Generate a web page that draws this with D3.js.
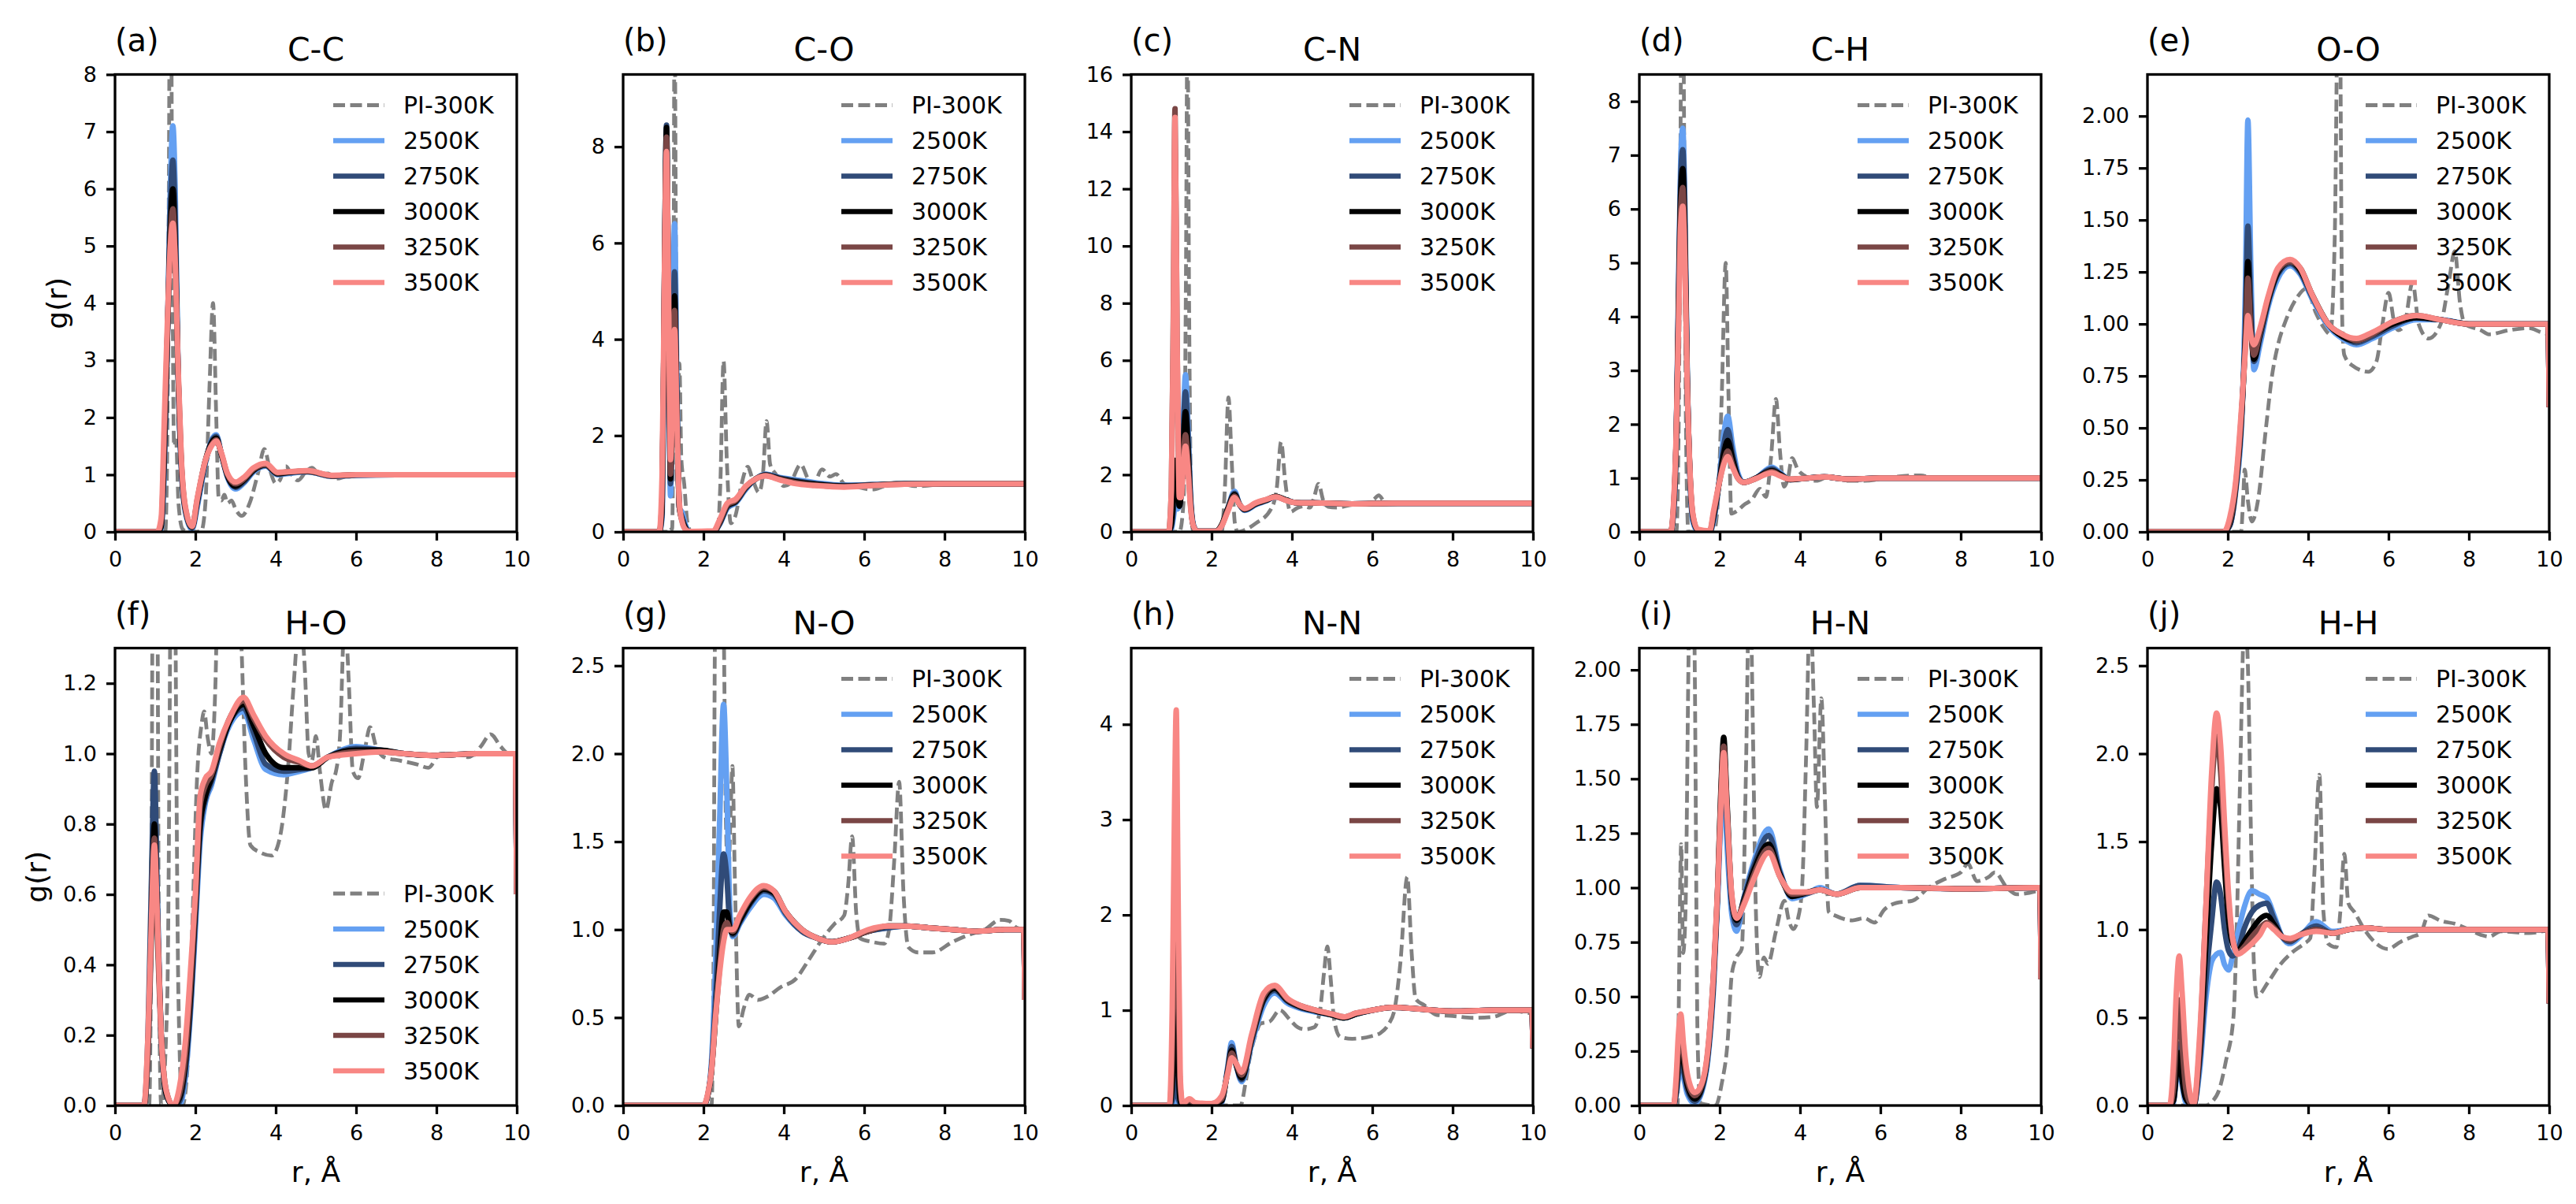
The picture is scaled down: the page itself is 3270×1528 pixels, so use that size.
<!DOCTYPE html>
<html>
<head>
<meta charset="utf-8">
<script src="https://cdnjs.cloudflare.com/ajax/libs/d3/7.8.5/d3.min.js"></script>
<style>
  body { margin: 0; background: #ffffff; }
  svg { display: block; font-family: "DejaVu Sans", sans-serif; }
</style>
</head>
<body>
<div id="chart"></div>
<script>
// Panel labels and names
const panelTags = ["(a)", "(b)", "(c)", "(d)", "(e)", "(f)", "(g)", "(h)", "(i)", "(j)"];
const panelNames = ["C-C", "C-O", "C-N", "C-H", "O-O", "H-O", "N-O", "N-N", "H-N", "H-H"];
const seriesNames = ["PI-300K", "2500K", "2750K", "3000K", "3250K", "3500K"];

// Axis ranges and ticks
const xTicks = [0, 2, 4, 6, 8, 10];
const yMaxes = [8, 9.5, 16, 8.5, 2.2, 1.3, 2.6, 4.8, 2.1, 2.6];
const yTickValues = [
  [0, 1, 2, 3, 4, 5, 6, 7, 8],
  [0, 2, 4, 6, 8],
  [0, 2, 4, 6, 8, 10, 12, 14, 16],
  [0, 1, 2, 3, 4, 5, 6, 7, 8],
  [0, 0.25, 0.5, 0.75, 1, 1.25, 1.5, 1.75, 2],
  [0, 0.2, 0.4, 0.6, 0.8, 1, 1.2],
  [0, 0.5, 1, 1.5, 2, 2.5],
  [0, 1, 2, 3, 4],
  [0, 0.25, 0.5, 0.75, 1, 1.25, 1.5, 1.75, 2],
  [0, 0.5, 1, 1.5, 2, 2.5]
];
const yTickFormats = ["d", "d", "d", "d", ".2f", ".1f", ".1f", "d", ".2f", ".1f"];

// g(r) of the melts: [r, 2500K, 2750K, 3000K, 3250K, 3500K]
const ccMelt = [
  [0, 0, 0, 0, 0, 0], [1.05, 0, 0, 0, 0, 0], [1.15, 0.05, 0.08, 0.1, 0.15, 0.25],
  [1.22, 0.9, 1.1, 1.2, 1.4, 1.8], [1.3, 3.2, 3.3, 3.3, 3.4, 3.6], [1.37, 5.8, 5.5, 5.2, 5.0, 4.9],
  [1.44, 7.1, 6.5, 6.0, 5.65, 5.4], [1.5, 5.9, 5.4, 5.0, 4.8, 4.7], [1.57, 2.8, 2.8, 2.8, 2.8, 2.9],
  [1.65, 1.1, 1.15, 1.2, 1.25, 1.3], [1.75, 0.35, 0.38, 0.4, 0.42, 0.45], [1.92, 0.05, 0.07, 0.08, 0.09, 0.1],
  [2.05, 0.45, 0.5, 0.55, 0.58, 0.6], [2.25, 1.2, 1.22, 1.25, 1.25, 1.25], [2.4, 1.6, 1.58, 1.55, 1.52, 1.5],
  [2.52, 1.7, 1.67, 1.64, 1.61, 1.59], [2.65, 1.35, 1.35, 1.35, 1.36, 1.38], [2.8, 0.95, 0.97, 0.98, 1.0, 1.02],
  [3.0, 0.75, 0.78, 0.8, 0.84, 0.87], [3.2, 0.85, 0.87, 0.9, 0.92, 0.95], [3.45, 1.05, 1.07, 1.08, 1.1, 1.12],
  [3.75, 1.15, 1.16, 1.17, 1.18, 1.2], [4.05, 1.0, 1.01, 1.02, 1.03, 1.04], [4.3, 1.02, 1.03, 1.04, 1.05, 1.05],
  [4.8, 1.05, 1.05, 1.06, 1.06, 1.07], [5.4, 0.97, 0.97, 0.98, 0.98, 0.99], [6, 0.99, 0.99, 1.0, 1.0, 1.0],
  [7, 1.0, 1.0, 1.0, 1.0, 1.0], [8, 1.0, 1.0, 1.0, 1.0, 1.0], [10, 1.0, 1.0, 1.0, 1.0, 1.0]
];
const coMelt = [
  [0, 0, 0, 0, 0, 0], [0.9, 0, 0, 0, 0, 0], [0.97, 0.3, 0.4, 0.5, 0.7, 1.2],
  [1.03, 5.0, 5.5, 5.5, 5.3, 5.5], [1.08, 8.3, 8.45, 8.4, 8.2, 7.9], [1.13, 4.0, 4.5, 4.6, 4.8, 5.0],
  [1.18, 0.75, 1.0, 1.1, 1.2, 1.5], [1.23, 3.5, 3.2, 3.0, 2.9, 2.8], [1.28, 6.4, 5.4, 4.9, 4.6, 4.2],
  [1.34, 3.0, 2.7, 2.5, 2.4, 2.3], [1.4, 0.5, 0.5, 0.5, 0.5, 0.6], [1.47, 0.4, 0.3, 0.25, 0.22, 0.2],
  [1.55, 0.15, 0.1, 0.08, 0.06, 0.05], [1.65, 0.01, 0.01, 0.01, 0.01, 0.01], [2.25, 0, 0, 0, 0, 0.02],
  [2.4, 0.15, 0.17, 0.18, 0.2, 0.25], [2.6, 0.5, 0.52, 0.55, 0.57, 0.6], [2.8, 0.6, 0.62, 0.63, 0.65, 0.68],
  [3.05, 0.88, 0.9, 0.92, 0.93, 0.95], [3.3, 1.1, 1.1, 1.1, 1.1, 1.1], [3.55, 1.2, 1.19, 1.18, 1.17, 1.16],
  [3.9, 1.13, 1.12, 1.1, 1.09, 1.08], [4.3, 1.08, 1.06, 1.04, 1.02, 1.0], [4.8, 1.02, 1.0, 0.99, 0.97, 0.96],
  [5.5, 0.97, 0.96, 0.95, 0.94, 0.93], [6.2, 0.98, 0.98, 0.97, 0.97, 0.96], [7, 1.0, 1.0, 1.0, 0.99, 0.99],
  [8, 1.0, 1.0, 1.0, 1.0, 1.0], [10, 1.0, 1.0, 1.0, 1.0, 1.0]
];
const cnMelt = [
  [0, 0, 0, 0, 0, 0], [0.93, 0, 0, 0, 0, 0], [1.0, 0.1, 0.2, 0.3, 1.5, 1.5],
  [1.05, 0.5, 0.8, 1.2, 8, 7.5], [1.09, 0.9, 1.5, 2.5, 14.8, 14.5], [1.14, 0.8, 1.2, 1.8, 7, 7],
  [1.2, 0.9, 0.9, 0.9, 1.2, 1.2], [1.24, 1.5, 1.4, 1.3, 1.2, 1.2], [1.3, 4.0, 3.6, 3.2, 2.7, 2.4],
  [1.35, 5.5, 4.9, 4.2, 3.4, 3.0], [1.41, 3.8, 3.4, 3.0, 2.5, 2.2], [1.48, 1.2, 1.1, 1.0, 0.9, 0.8],
  [1.55, 0.25, 0.2, 0.2, 0.2, 0.2], [1.65, 0.02, 0.02, 0.02, 0.02, 0.02], [2.1, 0.02, 0.02, 0.02, 0.02, 0.02],
  [2.25, 0.2, 0.22, 0.25, 0.22, 0.2], [2.4, 0.8, 0.8, 0.8, 0.75, 0.7], [2.57, 1.42, 1.35, 1.3, 1.25, 1.2],
  [2.7, 0.95, 0.95, 0.95, 0.95, 0.95], [2.82, 0.75, 0.77, 0.78, 0.8, 0.82], [3.1, 0.95, 0.97, 0.98, 1.0, 1.02],
  [3.35, 1.08, 1.09, 1.1, 1.12, 1.13], [3.6, 1.22, 1.23, 1.24, 1.23, 1.22], [3.85, 1.12, 1.12, 1.12, 1.11, 1.1],
  [4.1, 1.02, 1.02, 1.02, 1.02, 1.02], [4.6, 1.01, 1.01, 1.01, 1.01, 1.01], [5.5, 0.98, 0.98, 0.98, 0.98, 0.98],
  [6.5, 1.0, 1.0, 1.0, 1.0, 1.0], [10, 1.0, 1.0, 1.0, 1.0, 1.0]
];
const chMelt = [
  [0, 0, 0, 0, 0, 0], [0.78, 0, 0, 0, 0, 0], [0.85, 0.3, 0.35, 0.4, 0.45, 0.5],
  [0.92, 1.8, 1.8, 1.8, 1.8, 1.9], [0.98, 4.8, 4.6, 4.4, 4.2, 4.0], [1.03, 6.9, 6.6, 6.3, 6.0, 5.7],
  [1.08, 7.5, 7.1, 6.75, 6.4, 6.05], [1.13, 6.2, 6.0, 5.7, 5.4, 5.1], [1.19, 3.0, 3.0, 2.9, 2.85, 2.8],
  [1.26, 1.0, 1.05, 1.1, 1.1, 1.15], [1.33, 0.2, 0.25, 0.3, 0.32, 0.35], [1.45, 0.02, 0.03, 0.03, 0.04, 0.05],
  [1.75, 0, 0, 0, 0, 0.02], [1.85, 0.2, 0.25, 0.3, 0.35, 0.4], [2.0, 1.05, 1.0, 0.98, 0.95, 0.95],
  [2.1, 1.8, 1.6, 1.45, 1.3, 1.25], [2.2, 2.15, 1.9, 1.7, 1.5, 1.4], [2.32, 1.6, 1.45, 1.35, 1.25, 1.2],
  [2.45, 1.1, 1.05, 1.02, 1.0, 1.0], [2.6, 0.92, 0.92, 0.92, 0.92, 0.92], [2.9, 1.0, 1.0, 1.0, 0.99, 0.99],
  [3.3, 1.2, 1.17, 1.14, 1.12, 1.1], [3.5, 1.1, 1.08, 1.07, 1.05, 1.04], [3.75, 0.97, 0.97, 0.97, 0.98, 0.98],
  [4.2, 1.0, 1.0, 1.0, 1.0, 1.0], [4.6, 1.02, 1.02, 1.02, 1.02, 1.02], [5.2, 0.98, 0.98, 0.98, 0.98, 0.98],
  [6, 1.0, 1.0, 1.0, 1.0, 1.0], [10, 1.0, 1.0, 1.0, 1.0, 1.0]
];
const ooMelt = [
  [0, 0, 0, 0, 0, 0], [1.9, 0, 0, 0, 0, 0], [2.05, 0.03, 0.03, 0.04, 0.05, 0.07],
  [2.2, 0.2, 0.21, 0.22, 0.23, 0.25], [2.35, 0.55, 0.57, 0.58, 0.6, 0.62], [2.44, 1.2, 1.0, 0.95, 0.92, 0.88],
  [2.5, 1.98, 1.47, 1.3, 1.22, 1.04], [2.57, 1.3, 1.1, 1.0, 0.98, 0.95], [2.65, 0.78, 0.82, 0.83, 0.85, 0.9],
  [2.8, 0.9, 0.93, 0.95, 0.96, 0.98], [3.0, 1.08, 1.1, 1.11, 1.12, 1.13], [3.25, 1.22, 1.24, 1.25, 1.26, 1.27],
  [3.55, 1.28, 1.29, 1.3, 1.3, 1.31], [3.8, 1.24, 1.25, 1.26, 1.27, 1.27], [4.1, 1.12, 1.13, 1.14, 1.14, 1.14],
  [4.5, 0.99, 1.0, 1.0, 1.0, 1.0], [4.85, 0.93, 0.94, 0.94, 0.95, 0.95], [5.2, 0.9, 0.91, 0.92, 0.92, 0.93],
  [5.6, 0.93, 0.94, 0.95, 0.95, 0.96], [6.1, 0.98, 0.99, 1.0, 1.01, 1.01], [6.7, 1.02, 1.03, 1.03, 1.04, 1.04],
  [7.3, 1.02, 1.02, 1.02, 1.02, 1.02], [8, 1.0, 1.0, 1.0, 1.0, 1.0], [9, 1.0, 1.0, 1.0, 1.0, 1.0],
  [9.97, 1.0, 1.0, 1.0, 1.0, 1.0], [10, 0.6, 0.6, 0.6, 0.6, 0.6]
];
const hoMelt = [
  [0, 0, 0, 0, 0, 0], [0.72, 0, 0, 0, 0, 0], [0.82, 0.15, 0.2, 0.15, 0.15, 0.2],
  [0.9, 0.5, 0.6, 0.5, 0.45, 0.5], [0.98, 0.9, 0.95, 0.8, 0.76, 0.74], [1.05, 0.6, 0.6, 0.55, 0.5, 0.55],
  [1.15, 0.2, 0.2, 0.2, 0.2, 0.2], [1.28, 0.03, 0.03, 0.03, 0.04, 0.04], [1.45, 0, 0, 0, 0, 0],
  [1.6, 0.0, 0.01, 0.02, 0.03, 0.05], [1.75, 0.08, 0.1, 0.12, 0.14, 0.18], [1.9, 0.3, 0.32, 0.35, 0.38, 0.42],
  [2.0, 0.5, 0.53, 0.56, 0.58, 0.6], [2.12, 0.75, 0.78, 0.8, 0.85, 0.88], [2.25, 0.86, 0.87, 0.88, 0.91, 0.93],
  [2.4, 0.91, 0.92, 0.93, 0.94, 0.95], [2.6, 1.0, 1.0, 1.01, 1.02, 1.03], [2.85, 1.08, 1.09, 1.09, 1.1, 1.1],
  [3.2, 1.12, 1.13, 1.14, 1.15, 1.16], [3.45, 1.04, 1.06, 1.08, 1.1, 1.11], [3.75, 0.955, 0.97, 1.0, 1.04, 1.05],
  [4.2, 0.94, 0.95, 0.96, 0.99, 1.0], [4.6, 0.95, 0.955, 0.96, 0.975, 0.98], [4.9, 0.96, 0.96, 0.96, 0.965, 0.965],
  [5.3, 0.99, 0.99, 0.99, 0.99, 0.99], [6.0, 1.02, 1.015, 1.01, 1.005, 1.0], [6.6, 1.01, 1.01, 1.01, 1.005, 1.005],
  [7.2, 1.0, 1.0, 1.0, 1.0, 1.0], [8, 0.995, 0.995, 0.995, 0.995, 0.995], [9, 1.0, 1.0, 1.0, 1.0, 1.0],
  [9.97, 1.0, 1.0, 1.0, 1.0, 1.0], [10, 0.6, 0.6, 0.6, 0.6, 0.6]
];
const noMelt = [
  [0, 0, 0, 0, 0, 0], [2.0, 0, 0, 0, 0, 0], [2.1, 0.05, 0.05, 0.05, 0.05, 0.06],
  [2.2, 0.25, 0.22, 0.2, 0.2, 0.2], [2.3, 0.8, 0.6, 0.5, 0.5, 0.5], [2.4, 1.6, 1.1, 0.85, 0.78, 0.75],
  [2.5, 2.28, 1.43, 1.1, 1.0, 0.93], [2.58, 1.8, 1.3, 1.1, 1.04, 1.0], [2.66, 1.1, 1.02, 1.0, 1.0, 1.0],
  [2.73, 0.96, 0.97, 0.98, 0.99, 1.0], [2.9, 1.03, 1.04, 1.05, 1.07, 1.08], [3.15, 1.12, 1.14, 1.15, 1.17, 1.18],
  [3.5, 1.2, 1.22, 1.23, 1.24, 1.25], [3.75, 1.18, 1.2, 1.21, 1.22, 1.22], [4.05, 1.08, 1.09, 1.1, 1.1, 1.1],
  [4.45, 0.99, 0.99, 1.0, 1.0, 1.0], [4.85, 0.95, 0.95, 0.95, 0.95, 0.95], [5.2, 0.93, 0.93, 0.93, 0.93, 0.93],
  [5.6, 0.95, 0.95, 0.95, 0.95, 0.95], [6.1, 0.99, 0.99, 0.99, 0.99, 1.0], [6.6, 1.01, 1.01, 1.02, 1.02, 1.02],
  [7.0, 1.02, 1.02, 1.02, 1.02, 1.02], [7.6, 1.01, 1.01, 1.01, 1.01, 1.01], [8.2, 1.0, 1.0, 1.0, 1.0, 1.0],
  [8.8, 0.99, 0.99, 0.99, 0.99, 0.99], [9.5, 1.0, 1.0, 1.0, 1.0, 1.0], [9.97, 1.0, 1.0, 1.0, 1.0, 1.0],
  [10, 0.6, 0.6, 0.6, 0.6, 0.6]
];
const nnMelt = [
  [0, 0, 0, 0, 0, 0], [0.95, 0, 0, 0, 0, 0], [1.02, 0, 0.05, 0.2, 0.5, 1.0],
  [1.08, 0.1, 0.2, 0.8, 2.0, 3.2], [1.12, 0.1, 0.3, 1.1, 2.5, 4.15], [1.16, 0.05, 0.1, 0.5, 1.5, 2.5],
  [1.22, 0, 0.02, 0.05, 0.2, 0.3], [1.28, 0, 0, 0, 0.02, 0.02], [1.45, 0, 0.01, 0.02, 0.05, 0.07],
  [1.6, 0, 0.01, 0.02, 0.02, 0.03], [2.0, 0, 0.01, 0.01, 0.02, 0.02], [2.25, 0.03, 0.04, 0.05, 0.07, 0.1],
  [2.4, 0.4, 0.38, 0.36, 0.35, 0.33], [2.5, 0.66, 0.62, 0.58, 0.55, 0.5], [2.6, 0.45, 0.45, 0.44, 0.45, 0.45],
  [2.75, 0.25, 0.27, 0.29, 0.32, 0.35], [3.0, 0.65, 0.68, 0.7, 0.72, 0.75], [3.3, 1.05, 1.1, 1.12, 1.15, 1.18],
  [3.57, 1.18, 1.21, 1.23, 1.25, 1.26], [3.9, 1.07, 1.09, 1.1, 1.11, 1.12], [4.2, 1.02, 1.03, 1.04, 1.05, 1.05],
  [4.6, 0.98, 0.99, 0.99, 1.0, 1.0], [5.0, 0.95, 0.95, 0.95, 0.96, 0.96], [5.3, 0.92, 0.92, 0.92, 0.93, 0.93],
  [5.6, 0.96, 0.96, 0.96, 0.97, 0.97], [6.0, 1.0, 1.0, 1.0, 1.0, 1.0], [6.5, 1.03, 1.03, 1.03, 1.03, 1.03],
  [7.0, 1.02, 1.02, 1.02, 1.02, 1.02], [7.5, 1.0, 1.0, 1.0, 1.0, 1.0], [8.0, 0.99, 0.99, 0.99, 0.99, 0.99],
  [9.0, 1.0, 1.0, 1.0, 1.0, 1.0], [9.97, 1.0, 1.0, 1.0, 1.0, 1.0], [10, 0.6, 0.6, 0.6, 0.6, 0.6]
];
const hnMelt = [
  [0, 0, 0, 0, 0, 0], [0.85, 0, 0, 0, 0, 0], [0.92, 0.05, 0.06, 0.08, 0.1, 0.14],
  [0.97, 0.12, 0.15, 0.2, 0.26, 0.32], [1.03, 0.18, 0.22, 0.3, 0.36, 0.42], [1.1, 0.13, 0.16, 0.2, 0.24, 0.28],
  [1.2, 0.05, 0.07, 0.09, 0.11, 0.14], [1.38, 0.01, 0.02, 0.03, 0.045, 0.06], [1.55, 0.06, 0.07, 0.08, 0.09, 0.1],
  [1.7, 0.2, 0.22, 0.23, 0.24, 0.25], [1.85, 0.55, 0.57, 0.6, 0.62, 0.62], [1.95, 0.95, 0.97, 1.0, 1.0, 1.0],
  [2.03, 1.32, 1.38, 1.45, 1.43, 1.38], [2.1, 1.45, 1.55, 1.69, 1.65, 1.62], [2.18, 1.2, 1.3, 1.4, 1.38, 1.35],
  [2.3, 0.88, 0.92, 0.95, 0.96, 0.97], [2.42, 0.8, 0.83, 0.85, 0.86, 0.86], [2.6, 0.95, 0.95, 0.94, 0.93, 0.92],
  [2.85, 1.12, 1.1, 1.08, 1.06, 1.04], [3.22, 1.27, 1.24, 1.2, 1.18, 1.16], [3.5, 1.08, 1.07, 1.06, 1.05, 1.05],
  [3.8, 0.95, 0.96, 0.96, 0.97, 0.98], [4.2, 0.975, 0.975, 0.98, 0.98, 0.98], [4.5, 1.0, 0.99, 0.99, 0.99, 0.99],
  [4.9, 0.97, 0.97, 0.97, 0.97, 0.97], [5.5, 1.01, 1.01, 1.0, 1.0, 1.0], [6.5, 1.0, 1.0, 1.0, 1.0, 1.0],
  [8.0, 0.995, 0.995, 0.995, 0.995, 0.995], [9.97, 1.0, 1.0, 1.0, 1.0, 1.0], [10, 0.58, 0.58, 0.58, 0.58, 0.58]
];
const hhMelt = [
  [0, 0, 0, 0, 0, 0], [0.55, 0, 0, 0, 0, 0], [0.65, 0.02, 0.03, 0.03, 0.1, 0.25],
  [0.72, 0.15, 0.2, 0.18, 0.4, 0.65], [0.79, 0.25, 0.35, 0.3, 0.6, 0.85], [0.86, 0.12, 0.18, 0.15, 0.35, 0.65],
  [0.95, 0.02, 0.05, 0.04, 0.1, 0.3], [1.05, 0, 0.01, 0.01, 0.02, 0.08], [1.15, 0, 0, 0, 0, 0.01],
  [1.3, 0.2, 0.25, 0.3, 0.35, 0.4], [1.45, 0.6, 0.7, 0.9, 1.1, 1.1], [1.6, 0.82, 1.05, 1.5, 1.8, 1.9],
  [1.72, 0.86, 1.27, 1.8, 2.1, 2.23], [1.82, 0.87, 1.2, 1.7, 1.9, 2.05], [1.92, 0.8, 1.0, 1.35, 1.5, 1.6],
  [2.02, 0.77, 0.88, 1.05, 1.15, 1.2], [2.12, 0.85, 0.85, 0.92, 0.95, 0.95], [2.25, 0.98, 0.88, 0.88, 0.87, 0.86],
  [2.4, 1.12, 1.0, 0.93, 0.9, 0.88], [2.6, 1.22, 1.1, 1.0, 0.96, 0.92], [2.8, 1.2, 1.14, 1.06, 1.01, 0.97],
  [2.97, 1.18, 1.15, 1.08, 1.04, 1.03], [3.15, 1.08, 1.06, 1.03, 1.01, 1.0], [3.35, 0.96, 0.96, 0.96, 0.96, 0.96],
  [3.55, 0.92, 0.93, 0.94, 0.94, 0.95], [3.8, 0.96, 0.97, 0.97, 0.97, 0.97], [4.2, 1.045, 1.02, 1.0, 1.0, 0.99],
  [4.6, 0.99, 0.98, 0.98, 0.98, 0.98], [5.0, 1.0, 1.0, 1.0, 1.0, 1.0], [5.4, 1.01, 1.01, 1.01, 1.01, 1.01],
  [6, 1.0, 1.0, 1.0, 1.0, 1.0], [9.97, 1.0, 1.0, 1.0, 1.0, 1.0], [10, 0.58, 0.58, 0.58, 0.58, 0.58]
];

// g(r) of the PI crystal at 300K: [r, g]
const ccPI = [
  [0, 0], [1.25, 0], [1.3, 1.5], [1.34, 6], [1.38, 12], [1.42, 6], [1.47, 1.5], [1.52, 1.6], [1.58, 0.5],
  [1.68, 0.05], [1.8, 0], [1.9, 0.05], [2.0, 0], [2.15, 0.02], [2.25, 0.5], [2.35, 2.5], [2.44, 4.0],
  [2.52, 2.0], [2.58, 0.6], [2.65, 0.55], [2.72, 0.65], [2.8, 0.5], [2.9, 0.55], [3.0, 0.4], [3.15, 0.28],
  [3.35, 0.5], [3.55, 1.0], [3.72, 1.45], [3.85, 1.1], [4.0, 0.85], [4.1, 0.9], [4.25, 1.15], [4.4, 1.0],
  [4.55, 0.9], [4.75, 1.05], [4.9, 1.12], [5.1, 1.0], [5.3, 1.02], [5.5, 0.93], [5.8, 0.98], [6.2, 1.0],
  [7, 0.99], [8, 1.0], [9, 0.99], [10, 1.0]
];
const coPI = [
  [0, 0], [1.12, 0], [1.18, 0.1], [1.22, 0.05], [1.25, 3], [1.28, 11], [1.32, 5], [1.36, 2.5], [1.4, 3.5],
  [1.45, 1.5], [1.52, 1.0], [1.6, 0.2], [1.7, 0], [2.35, 0], [2.42, 1.0], [2.5, 3.55], [2.58, 1.5],
  [2.68, 0.18], [2.8, 0.35], [2.95, 1.0], [3.1, 1.35], [3.22, 1.1], [3.38, 0.82], [3.48, 1.2], [3.57, 2.3],
  [3.66, 1.4], [3.8, 1.2], [4.0, 0.95], [4.15, 1.0], [4.42, 1.4], [4.6, 1.1], [4.72, 0.95], [4.95, 1.3],
  [5.15, 1.15], [5.3, 1.2], [5.5, 1.0], [5.75, 0.95], [6.2, 0.88], [6.5, 0.95], [6.8, 1.02], [7.3, 0.95],
  [7.7, 0.97], [8.0, 1.02], [8.5, 1.0], [9, 1.0], [10, 1.0]
];
const cnPI = [
  [0, 0], [1.2, 0], [1.3, 1.0], [1.36, 8.5], [1.4, 18], [1.44, 8], [1.5, 0.5], [1.55, 0], [2.25, 0],
  [2.33, 1.5], [2.42, 4.7], [2.5, 2.5], [2.58, 0.3], [2.65, 0], [2.8, 0.05], [3.1, 0.3], [3.48, 0.8],
  [3.62, 1.5], [3.73, 3.15], [3.83, 1.8], [3.96, 0.7], [4.15, 0.85], [4.3, 0.9], [4.45, 0.85], [4.55, 1.2],
  [4.66, 1.68], [4.78, 1.1], [4.9, 0.88], [5.1, 0.85], [5.5, 0.95], [5.9, 1.0], [6.05, 1.15], [6.16, 1.28],
  [6.3, 1.05], [6.45, 0.97], [7, 1.0], [8, 1.0], [10, 1.0]
];
const chPI = [
  [0, 0], [0.92, 0], [0.98, 2], [1.03, 8], [1.07, 14], [1.11, 8], [1.16, 2], [1.22, 0], [1.85, 0],
  [1.95, 0.5], [2.05, 2.5], [2.15, 5.0], [2.22, 2.5], [2.29, 0.34], [2.45, 0.4], [2.6, 0.5], [2.8, 0.6],
  [3.0, 0.8], [3.15, 0.65], [3.28, 1.4], [3.4, 2.47], [3.5, 1.5], [3.6, 0.84], [3.7, 1.0], [3.8, 1.37],
  [3.95, 1.15], [4.1, 1.05], [4.4, 0.95], [4.7, 1.02], [5.2, 0.95], [5.6, 0.95], [6.3, 1.02], [7.0, 1.05],
  [7.3, 1.0], [8, 1.0], [10, 1.0]
];
const ooPI = [
  [0, 0], [2.33, 0], [2.38, 0.15], [2.42, 0.3], [2.5, 0.15], [2.6, 0.05], [2.75, 0.15], [2.95, 0.5],
  [3.1, 0.75], [3.25, 0.9], [3.45, 1.02], [3.7, 1.12], [3.95, 1.17], [4.2, 1.05], [4.4, 0.98], [4.55, 0.95],
  [4.66, 1.4], [4.77, 3.0], [4.85, 1.0], [4.9, 0.85], [5.1, 0.8], [5.5, 0.77], [5.7, 0.82], [5.85, 1.0],
  [6.0, 1.15], [6.15, 1.0], [6.25, 0.97], [6.4, 1.0], [6.6, 1.2], [6.75, 1.0], [7.0, 0.93], [7.3, 1.0],
  [7.5, 1.2], [7.65, 1.35], [7.78, 1.1], [7.9, 1.0], [8.3, 0.97], [8.5, 0.95], [9.0, 0.97], [9.5, 0.98],
  [9.8, 0.96], [10, 0.95]
];
const hoPI = [
  [0, 0], [0.85, 0], [0.9, 0.5], [0.95, 2], [0.99, 3], [1.04, 2], [1.1, 0.3], [1.15, 0], [1.3, 0.3],
  [1.38, 1.5], [1.44, 3], [1.5, 1.5], [1.58, 0.3], [1.68, 0], [1.8, 0.1], [1.92, 0.5], [2.05, 0.95],
  [2.15, 1.08], [2.22, 1.12], [2.3, 1.05], [2.4, 1.0], [2.5, 1.2], [2.58, 1.6], [2.75, 1.7], [2.9, 1.6],
  [3.05, 1.6], [3.15, 1.3], [3.25, 0.95], [3.37, 0.74], [3.6, 0.72], [3.9, 0.71], [4.1, 0.76], [4.3, 0.95],
  [4.45, 1.2], [4.6, 1.4], [4.72, 1.25], [4.82, 1.0], [4.9, 0.98], [5.0, 1.05], [5.1, 0.95], [5.25, 0.84],
  [5.4, 0.92], [5.5, 0.95], [5.6, 1.05], [5.72, 1.4], [5.82, 1.2], [5.92, 0.95], [6.05, 0.93], [6.2, 1.0],
  [6.35, 1.075], [6.5, 1.02], [6.7, 0.99], [7.1, 0.98], [7.5, 0.97], [7.8, 0.96], [8.1, 1.0], [8.5, 1.0],
  [8.8, 0.99], [9.1, 1.02], [9.35, 1.055], [9.6, 1.02], [9.8, 1.0], [10, 1.0]
];
const noPI = [
  [0, 0], [2.2, 0], [2.25, 0.8], [2.28, 2.5], [2.32, 3.2], [2.45, 3.2], [2.5, 2.8], [2.56, 1.6],
  [2.62, 1.3], [2.68, 1.7], [2.72, 1.93], [2.78, 1.3], [2.88, 0.45], [3.0, 0.55], [3.14, 0.63], [3.35, 0.6],
  [3.6, 0.62], [3.9, 0.67], [4.3, 0.72], [4.6, 0.82], [4.97, 0.95], [5.25, 1.03], [5.5, 1.08], [5.6, 1.25],
  [5.7, 1.53], [5.8, 1.1], [5.9, 0.95], [6.2, 0.93], [6.5, 0.92], [6.62, 1.0], [6.75, 1.4], [6.87, 1.84],
  [6.98, 1.2], [7.1, 0.9], [7.35, 0.87], [7.7, 0.87], [8.2, 0.93], [8.6, 0.97], [9.0, 1.0], [9.38, 1.055],
  [9.6, 1.05], [9.8, 1.01], [10, 1.0]
];
const nnPI = [
  [0, 0], [2.72, 0], [2.85, 0.25], [2.95, 0.5], [3.1, 0.75], [3.22, 0.86], [3.44, 0.88], [3.7, 1.0],
  [3.95, 0.9], [4.15, 0.82], [4.32, 0.8], [4.55, 0.82], [4.7, 1.0], [4.8, 1.4], [4.88, 1.67], [4.97, 1.3],
  [5.05, 0.9], [5.2, 0.72], [5.5, 0.7], [6.0, 0.73], [6.2, 0.76], [6.4, 0.85], [6.55, 1.0], [6.7, 1.5],
  [6.87, 2.4], [6.98, 1.6], [7.08, 1.12], [7.3, 1.05], [7.6, 0.95], [8.0, 0.94], [8.5, 0.92], [9.0, 0.93],
  [9.5, 1.0], [9.9, 0.97], [10, 0.97]
];
const hnPI = [
  [0, 0], [0.95, 0], [0.99, 0.6], [1.04, 1.2], [1.09, 0.7], [1.15, 0.9], [1.22, 2.0], [1.3, 3.0],
  [1.38, 2.0], [1.45, 0.3], [1.52, 0.01], [1.9, 0], [2.05, 0.1], [2.2, 0.3], [2.3, 0.6], [2.42, 0.68],
  [2.55, 0.72], [2.65, 1.5], [2.75, 2.5], [2.82, 1.8], [2.9, 0.9], [2.99, 0.59], [3.1, 0.68], [3.2, 0.65],
  [3.4, 0.8], [3.61, 0.94], [3.72, 0.85], [3.83, 0.81], [3.95, 0.86], [4.05, 1.0], [4.15, 1.6], [4.25, 2.3],
  [4.35, 1.8], [4.42, 1.37], [4.53, 1.87], [4.62, 1.4], [4.71, 0.89], [4.9, 0.87], [5.3, 0.85], [5.6, 0.86],
  [5.85, 0.84], [6.1, 0.9], [6.4, 0.93], [6.8, 0.94], [7.2, 1.0], [7.6, 1.04], [8.0, 1.07], [8.18, 1.11],
  [8.4, 1.03], [8.7, 1.05], [8.85, 1.07], [9.15, 1.0], [9.4, 0.97], [10, 0.99]
];
const hhPI = [
  [0, 0], [1.45, 0], [1.6, 0.02], [1.8, 0.1], [1.95, 0.25], [2.14, 0.5], [2.22, 1.0], [2.3, 1.8],
  [2.42, 2.8], [2.5, 2.5], [2.58, 1.5], [2.65, 0.8], [2.72, 0.62], [3.0, 0.7], [3.3, 0.8], [3.6, 0.87],
  [3.9, 0.92], [4.05, 0.95], [4.15, 1.3], [4.28, 1.88], [4.38, 1.1], [4.5, 0.92], [4.7, 0.9], [4.8, 1.1],
  [4.9, 1.43], [5.0, 1.15], [5.15, 1.1], [5.4, 1.0], [5.7, 0.92], [5.98, 0.89], [6.3, 0.93], [6.6, 0.96],
  [6.8, 0.98], [6.99, 1.08], [7.3, 1.05], [7.7, 1.03], [8.0, 1.0], [8.3, 0.97], [8.5, 0.96], [8.8, 0.99],
  [9.5, 0.98], [10, 1.0]
];

const meltTables = [ccMelt, coMelt, cnMelt, chMelt, ooMelt, hoMelt, noMelt, nnMelt, hnMelt, hhMelt];
const piTables = [ccPI, coPI, cnPI, chPI, ooPI, hoPI, noPI, nnPI, hnPI, hhPI];

// Styles
const seriesColors = ["#808080", "#64a0f2", "#304b78", "#000000", "#7a4645", "#f88784"];
const legendAtBottom = [false, false, false, false, false, true, false, false, false, false];

function BuildPanel(svg, i){
  // Panel frame
  let chart_width = 510;
  let chart_height = 580.5;
  let col = i % 5;
  let row = Math.floor(i / 5);
  let left = 146 + col * 645;
  let top = [94.5, 822.5][row];
  let bottom = top + chart_height;

  let x_scale = d3.scaleLinear()
    .domain([0, 10])
    .range([left, left + chart_width]);
  let y_scale = d3.scaleLinear()
    .domain([0, yMaxes[i]])
    .range([bottom, top]);

  // Clip the curves to the axes box
  svg.append('clipPath')
    .attr('id', 'clip' + i)
    .append('rect')
    .attr('x', left)
    .attr('y', top)
    .attr('width', chart_width)
    .attr('height', chart_height);

  let plot = svg.append('g')
    .attr('clip-path', 'url(#clip' + i + ')');

  let line = d3.line()
    .x((d) => x_scale(d[0]))
    .y((d) => y_scale(d[1]))
    .curve(d3.curveMonotoneX);

  // PI reference first, melts on top
  plot.append('path')
    .datum(piTables[i])
    .attr('d', line)
    .attr('fill', 'none')
    .attr('stroke', seriesColors[0])
    .attr('stroke-width', 4.8)
    .attr('stroke-dasharray', '15,6.5');

  for (let s = 1; s <= 5; s++){
    plot.append('path')
      .datum(meltTables[i].map((d) => [d[0], d[s]]))
      .attr('d', line)
      .attr('fill', 'none')
      .attr('stroke', seriesColors[s])
      .attr('stroke-width', 7)
      .attr('stroke-linejoin', 'round');
  }

  // Axes
  let x_axis = d3.axisBottom(x_scale)
    .tickValues(xTicks)
    .tickSize(11)
    .tickSizeOuter(0)
    .tickPadding(14)
    .tickFormat(d3.format('d'));
  let gx = svg.append('g')
    .attr('transform', 'translate(0,' + bottom + ')')
    .call(x_axis);

  let y_axis = d3.axisLeft(y_scale)
    .tickValues(yTickValues[i])
    .tickSize(11)
    .tickSizeOuter(0)
    .tickPadding(12)
    .tickFormat(d3.format(yTickFormats[i]));
  let gy = svg.append('g')
    .attr('transform', 'translate(' + left + ',0)')
    .call(y_axis);

  [gx, gy].forEach((g) => {
    g.select('.domain').remove();
    g.selectAll('.tick line').attr('stroke', '#000').attr('stroke-width', 3.3);
    g.selectAll('.tick text')
      .attr('fill', '#000')
      .style('font-size', '27px')
      .style('font-family', '"DejaVu Sans", sans-serif');
  });

  // Box around the axes
  svg.append('rect')
    .attr('x', left)
    .attr('y', top)
    .attr('width', chart_width)
    .attr('height', chart_height)
    .attr('fill', 'none')
    .attr('stroke', '#000')
    .attr('stroke-width', 3.3);

  // Panel tag and title
  svg.append('text')
    .attr('x', left)
    .attr('y', top - 30)
    .style('font-size', '40px')
    .text(panelTags[i]);
  svg.append('text')
    .attr('x', left + chart_width / 2)
    .attr('y', top - 18)
    .attr('text-anchor', 'middle')
    .style('font-size', '41px')
    .text(panelNames[i]);

  // Axis titles
  if (col == 0){
    let box = gy.node().getBBox();
    let lx = left + box.x - 21;
    svg.append('text')
      .attr('text-anchor', 'middle')
      .attr('transform', 'translate(' + lx + ',' + (top + chart_height / 2) + ')rotate(-90)')
      .style('font-size', '36px')
      .text('g(r)');
  }
  if (row == 1){
    svg.append('text')
      .attr('x', left + chart_width / 2)
      .attr('y', bottom + 97)
      .attr('text-anchor', 'middle')
      .style('font-size', '36px')
      .text('r, Å');
  }

  // Legend
  let legend = svg.append('g');
  seriesNames.forEach((name, s) => {
    let cy = legendAtBottom[i] ? bottom - 44 - 45 * (5 - s) : top + 39 + 45 * s;
    legend.append('line')
      .attr('x1', left + 277)
      .attr('x2', left + 342)
      .attr('y1', cy)
      .attr('y2', cy)
      .attr('stroke', seriesColors[s])
      .attr('stroke-width', s == 0 ? 4.8 : 6.5)
      .attr('stroke-dasharray', s == 0 ? '15,6.5' : null);
    legend.append('text')
      .attr('x', left + 366)
      .attr('y', cy)
      .attr('dy', '0.36em')
      .style('font-size', '30px')
      .text(name);
  });
}

document.addEventListener('DOMContentLoaded', function(){
  let svg = d3.select('#chart')
    .append('svg')
    .attr('width', 3270)
    .attr('height', 1528)
    .attr('viewBox', '0 0 3270 1528');

  svg.append('rect')
    .attr('width', 3270)
    .attr('height', 1528)
    .attr('fill', '#fff');

  for (let i = 0; i < 10; i++){
    BuildPanel(svg, i);
  }
});
</script>
</body>
</html>
